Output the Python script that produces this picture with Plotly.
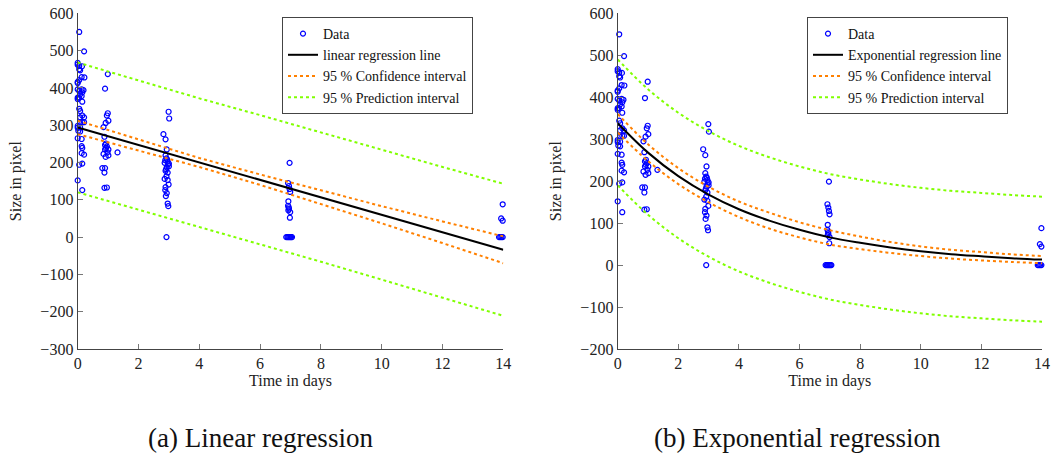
import plotly.graph_objects as go

# ---------------- measured data (same data in both panels) ----------------
time_days = [
    # ~day 0 cluster
    0.05, 0.21, 0.00, 0.00, 0.05, 0.05, 0.08, 0.14, 0.13, 0.22, 0.00, 0.00, 0.05,
    0.00, 0.05, 0.13, 0.19, 0.15, 0.08, 0.13, 0.00, 0.00, 0.04, 0.15, 0.05, 0.08,
    0.15, 0.21, 0.08, 0.15, 0.21, 0.08, 0.00, 0.00, 0.08, 0.08, 0.02, 0.00, 0.13,
    0.13, 0.15, 0.13, 0.21, 0.05, 0.15, 0.00, 0.15,
    # ~day 1 cluster
    0.99, 0.90, 0.99, 0.96, 1.01, 0.92, 0.85, 0.88, 0.93, 0.90, 0.96, 0.93, 0.90,
    1.01, 0.98, 0.85, 1.01, 0.92, 1.31, 0.81, 0.90, 0.88, 0.88, 0.96,
    # ~day 3 cluster
    2.99, 3.01, 2.82, 2.89, 2.93, 2.89, 2.92, 2.88, 2.96, 2.86, 3.00, 3.00, 2.93,
    2.89, 2.96, 2.92, 2.86, 2.96, 2.99, 2.89, 2.88, 2.93, 2.90, 2.96, 2.98, 2.92,
    2.94, 2.97, 2.91,
    # ~day 7 cluster
    6.97, 6.92, 6.95, 6.97, 6.99, 6.93, 6.92, 6.94, 6.95, 6.93, 6.99, 6.98,
    6.86, 6.90, 6.93, 6.96, 6.99, 7.02, 7.05,
    # ~day 14 cluster
    13.98, 13.93, 13.98, 14.05,
    13.86, 13.90, 13.94, 13.98, 14.01, 14.04, 14.07,
]
size_px = [
    550, 498, 467, 462, 459, 450, 447, 458, 429, 428, 416, 413, 421,
    396, 392, 396, 394, 388, 383, 378, 374, 370, 374, 363, 344, 338,
    326, 321, 321, 308, 308, 306, 298, 293, 294, 283, 285, 265, 263,
    244, 239, 225, 221, 194, 197, 152, 126,
    437, 398, 332, 326, 312, 306, 295, 269, 251, 247, 243, 239, 235,
    235, 227, 223, 219, 215, 227, 185, 185, 173, 132, 133,
    336, 318, 276, 262, 235, 219, 211, 206, 203, 199, 197, 190, 187,
    178, 173, 163, 156, 153, 141, 134, 126, 118, 110, 90, 83, 0,
    208, 195, 182,
    199, 145, 137, 129, 121, 96, 84, 80, 76, 72, 67, 52,
    0, 0, 0, 0, 0, 0, 0,
    88, 50, 44, 41,
    0, 0, 0, 0, 0, 0, 0,
]

# ---------------- curves ----------------
t_curve = [0, 2, 4, 6, 8, 10, 12, 14]
lin_fit = [294, 247, 200, 154, 107, 60, 13, -34]
lin_ci_up = [312, 261, 212, 168, 125, 83, 42, 2]
lin_ci_lo = [276, 233, 188, 140, 89, 37, -16, -70]
lin_pi_up = [468, 420, 372, 327, 280, 234, 188, 143]
lin_pi_lo = [120, 74, 28, -19, -66, -114, -162, -211]

t_exp = [0, 1, 2, 3, 4, 5, 6, 7, 8, 9, 10, 11, 12, 13, 14]
exp_fit = [338, 268, 212, 168, 133, 106, 84, 66, 53, 42, 33, 26, 21, 16.5, 13]
exp_ci_up = [360, 288, 231, 186.5, 151.5, 125, 102, 83, 68, 55, 44.5, 36.5, 31, 25.5, 21.5]
exp_ci_lo = [316, 248, 193, 149.5, 114.5, 87, 66, 49, 38, 29, 21.5, 15.5, 11, 7.5, 4.5]
exp_pi_up = [490, 419, 363, 319, 284, 257, 235, 217, 204, 193, 184, 177, 172, 167, 163]
exp_pi_lo = [190, 120, 64, 20, -15, -42, -64, -82, -95, -106, -115, -122, -127, -131.5, -135]

x_ticks = [0, 2, 4, 6, 8, 10, 12, 14]
y_ticks_left = [-300, -200, -100, 0, 100, 200, 300, 400, 500, 600]
y_ticks_right = [-200, -100, 0, 100, 200, 300, 400, 500, 600]

FONT = "Liberation Serif"
BLUE = "#0000FF"
ORANGE = "#FF8000"
GREEN = "#80FF00"

fig = go.Figure()


def add_panel(xa, ya, leg, fit_name, tc, fit, ciu, cil, piu, pil, shape):
    fig.add_trace(go.Scatter(
        x=time_days, y=size_px, mode="markers", name="Data",
        marker=dict(symbol="circle-open", size=5, color=BLUE, line=dict(width=1.2, color=BLUE)),
        xaxis=xa, yaxis=ya, legend=leg, cliponaxis=False))
    fig.add_trace(go.Scatter(
        x=tc, y=fit, mode="lines", name=fit_name, line=dict(color="black", width=2, shape=shape),
        xaxis=xa, yaxis=ya, legend=leg))
    fig.add_trace(go.Scatter(
        x=tc, y=ciu, mode="lines", name="95 % Confidence interval",
        line=dict(color=ORANGE, width=2, dash="dot", shape=shape),
        xaxis=xa, yaxis=ya, legend=leg, legendgroup=leg + "ci"))
    fig.add_trace(go.Scatter(
        x=tc, y=cil, mode="lines", name="95 % Confidence interval", showlegend=False,
        line=dict(color=ORANGE, width=2, dash="dot", shape=shape),
        xaxis=xa, yaxis=ya, legend=leg, legendgroup=leg + "ci"))
    fig.add_trace(go.Scatter(
        x=tc, y=piu, mode="lines", name="95 % Prediction interval",
        line=dict(color=GREEN, width=2, dash="dot", shape=shape),
        xaxis=xa, yaxis=ya, legend=leg, legendgroup=leg + "pi"))
    fig.add_trace(go.Scatter(
        x=tc, y=pil, mode="lines", name="95 % Prediction interval", showlegend=False,
        line=dict(color=GREEN, width=2, dash="dot", shape=shape),
        xaxis=xa, yaxis=ya, legend=leg, legendgroup=leg + "pi"))


add_panel("x", "y", "legend", "linear regression line", t_curve,
          lin_fit, lin_ci_up, lin_ci_lo, lin_pi_up, lin_pi_lo, "linear")
add_panel("x2", "y2", "legend2", "Exponential regression line", t_exp,
          exp_fit, exp_ci_up, exp_ci_lo, exp_pi_up, exp_pi_lo, "spline")

W, H = 1055, 460
ytop = 1 - 13.3 / H
ybot = 1 - 349 / H

axis_common = dict(
    showgrid=False, zeroline=False, showline=True, linecolor="#444", linewidth=1.2,
    ticks="inside", ticklen=5, tickcolor="#777", tickwidth=1,
    tickfont=dict(family=FONT, size=16, color="#222"), automargin=False,
)
title_font = dict(family=FONT, size=16, color="#222")

fig.update_layout(
    width=W, height=H, margin=dict(l=0, r=0, t=0, b=0),
    paper_bgcolor="white", plot_bgcolor="white",
    font=dict(family=FONT, color="#222"),
    xaxis=dict(domain=[77.7 / W, 503.3 / W], range=[0, 14], tickvals=x_ticks,
               anchor="y", title=dict(text="Time in days", font=title_font, standoff=3),
               **axis_common),
    yaxis=dict(domain=[ybot, ytop], range=[-300, 600], tickvals=y_ticks_left,
               anchor="x", title=dict(text="Size in pixel", font=title_font, standoff=14),
               **axis_common),
    xaxis2=dict(domain=[617.7 / W, 1042 / W], range=[0, 14], tickvals=x_ticks,
                anchor="y2", title=dict(text="Time in days", font=title_font, standoff=3),
                **axis_common),
    yaxis2=dict(domain=[ybot, ytop], range=[-200, 600], tickvals=y_ticks_right,
                anchor="x2", title=dict(text="Size in pixel", font=title_font, standoff=14),
                **axis_common),
    legend=dict(x=282 / W, y=1 - 17 / H, xanchor="left", yanchor="top",
                bordercolor="#444", borderwidth=1, bgcolor="white",
                font=dict(family=FONT, size=14, color="#111"), itemwidth=30,
                tracegroupgap=0),
    legend2=dict(x=807 / W, y=1 - 17 / H, xanchor="left", yanchor="top",
                 bordercolor="#444", borderwidth=1, bgcolor="white",
                 font=dict(family=FONT, size=14, color="#111"), itemwidth=30,
                 tracegroupgap=0),
    annotations=[
        dict(text="(a) Linear regression", x=260 / W, y=1 - 438 / H, xref="paper", yref="paper",
             xanchor="center", yanchor="middle", showarrow=False,
             font=dict(family=FONT, size=27, color="#111")),
        dict(text="(b) Exponential regression", x=797 / W, y=1 - 438 / H, xref="paper", yref="paper",
             xanchor="center", yanchor="middle", showarrow=False,
             font=dict(family=FONT, size=27, color="#111")),
    ],
)

fig.write_html("out.html")
